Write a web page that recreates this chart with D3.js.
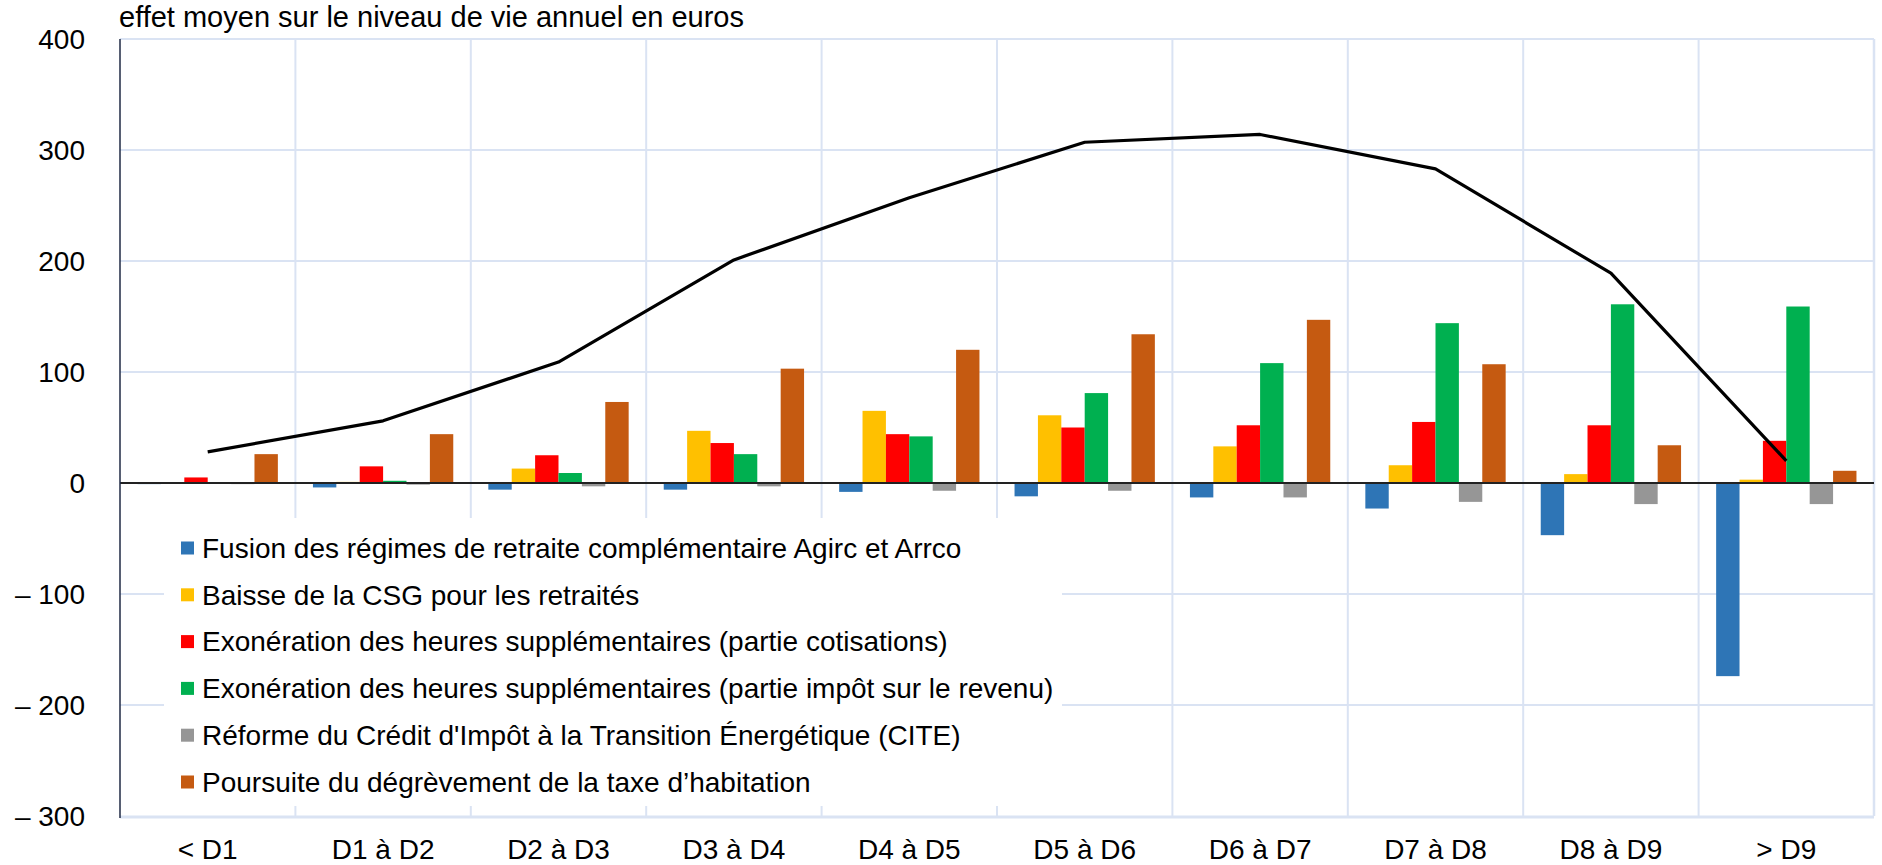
<!DOCTYPE html>
<html><head><meta charset="utf-8">
<script src="https://cdn.jsdelivr.net/npm/d3@7/dist/d3.min.js"></script>
<style>
html,body{margin:0;padding:0;background:#fff;}
svg{display:block;font-family:"Liberation Sans",Arial,sans-serif;}
</style></head>
<body><svg id="chart" width="1882" height="865"></svg>
<script>
const categories = ["< D1","D1 à D2","D2 à D3","D3 à D4","D4 à D5","D5 à D6","D6 à D7","D7 à D8","D8 à D9","> D9"];
const seriesNames = [
  "Fusion des régimes de retraite complémentaire Agirc et Arrco",
  "Baisse de la CSG pour les retraités",
  "Exonération des heures supplémentaires (partie cotisations)",
  "Exonération des heures supplémentaires (partie impôt sur le revenu)",
  "Réforme du Crédit d'Impôt à la Transition Énergétique (CITE)",
  "Poursuite du dégrèvement de la taxe d’habitation"
];
const fusionAgircArrco = [-1, -4, -6, -6, -8, -12, -13, -23, -47, -174];
const baisseCSG        = [0, 1, 13, 47, 65, 61, 33, 16, 8, 3];
const hsCotisations    = [5, 15, 25, 36, 44, 50, 52, 55, 52, 38];
const hsImpot          = [0, 2, 9, 26, 42, 81, 108, 144, 161, 159];
const reformeCITE      = [-1, -1.5, -3, -3, -7, -7, -13, -17, -19, -19];
const taxeHabitation   = [26, 44, 73, 103, 120, 134, 147, 107, 34, 11];
const total            = [28, 56, 109, 201, 257, 307, 314, 283, 189, 20];
const yTicks = [400, 300, 200, 100, 0, -100, -200, -300];
const yTickLabels = ["400","300","200","100","0","– 100","– 200","– 300"];
const colors = ["#2E75B6","#FFC000","#FF0000","#00B050","#969696","#C55A11"];
const titleText = "effet moyen sur le niveau de vie annuel en euros";

const seriesValues = [fusionAgircArrco, baisseCSG, hsCotisations, hsImpot, reformeCITE, taxeHabitation];

const svg = d3.select("#chart");
const L = 120, R = 1874, T = 39, B = 816;
const FONT = 28;

const x0 = d3.scaleBand().domain(categories).range([L, R]).paddingInner(0).paddingOuter(0);
const x1 = d3.scaleBand().domain(d3.range(seriesNames.length)).range([0, x0.bandwidth()]).paddingInner(0).paddingOuter(0.75);
const y = d3.scaleLinear().domain([-300, 400]).range([B, T]);

const gridColor = "#DAE3F3";

// horizontal grid
svg.append("g").selectAll("line").data(yTicks.filter(d => d !== 0 && d !== -300)).join("line")
  .attr("x1", L).attr("x2", R).attr("y1", d => y(d)).attr("y2", d => y(d))
  .attr("stroke", gridColor).attr("stroke-width", 2);
// vertical grid at category boundaries
svg.append("g").selectAll("line").data(categories.slice(1)).join("line")
  .attr("x1", d => x0(d)).attr("x2", d => x0(d)).attr("y1", T).attr("y2", B)
  .attr("stroke", gridColor).attr("stroke-width", 2);
// right border
svg.append("line").attr("x1", R).attr("x2", R).attr("y1", T).attr("y2", B)
  .attr("stroke", gridColor).attr("stroke-width", 2.5);
// bottom border
svg.append("line").attr("x1", L).attr("x2", R).attr("y1", B + 1).attr("y2", B + 1)
  .attr("stroke", gridColor).attr("stroke-width", 3);

// bars
const groups = svg.append("g").selectAll("g").data(categories).join("g")
  .attr("transform", d => `translate(${x0(d)},0)`);
groups.selectAll("rect").data((c, ci) => seriesValues.map((s, si) => ({si, v: s[ci]}))).join("rect")
  .attr("x", d => x1(d.si))
  .attr("width", x1.bandwidth())
  .attr("y", d => y(Math.max(0, d.v)))
  .attr("height", d => Math.abs(y(d.v) - y(0)))
  .attr("fill", d => colors[d.si]);

// zero line
svg.append("line").attr("x1", L).attr("x2", R).attr("y1", y(0)).attr("y2", y(0))
  .attr("stroke", "#222").attr("stroke-width", 2);

// total line
const line = d3.line().x((d, i) => x0(categories[i]) + x0.bandwidth() / 2).y(d => y(d));
svg.append("path").datum(total).attr("d", line)
  .attr("fill", "none").attr("stroke", "#000").attr("stroke-width", 3.2).attr("stroke-linejoin", "round");

// legend box
const lg = svg.append("g");
lg.append("rect").attr("x", 164).attr("y", 518).attr("width", 898).attr("height", 288).attr("fill", "#fff");
const items = lg.selectAll("g.item").data(seriesNames).join("g").attr("class", "item")
  .attr("transform", (d, i) => `translate(181,${548 + i * 46.8})`);
items.append("rect").attr("x", 0).attr("y", -6.5).attr("width", 13).attr("height", 13).attr("fill", (d, i) => colors[i]);
items.append("text").attr("x", 21).attr("y", 0).attr("dy", "0.35em")
  .attr("font-size", FONT).attr("fill", "#000").text(d => d);

// left axis
svg.append("line").attr("x1", L).attr("x2", L).attr("y1", T).attr("y2", B + 2)
  .attr("stroke", "#1F2A44").attr("stroke-width", 1.5);

// y tick labels
svg.append("g").selectAll("text").data(yTicks).join("text")
  .attr("x", 85).attr("y", d => y(d)).attr("dy", "0.35em").attr("text-anchor", "end")
  .attr("font-size", FONT).attr("fill", "#000").text((d, i) => yTickLabels[i]);

// x labels
svg.append("g").selectAll("text").data(categories).join("text")
  .attr("x", d => x0(d) + x0.bandwidth() / 2).attr("y", 849).attr("dy", "0.35em")
  .attr("text-anchor", "middle").attr("font-size", FONT).attr("fill", "#000").text(d => d);

// title
svg.append("text").attr("x", 119).attr("y", 27).attr("font-size", 29).attr("fill", "#000").text(titleText);
</script></body></html>
